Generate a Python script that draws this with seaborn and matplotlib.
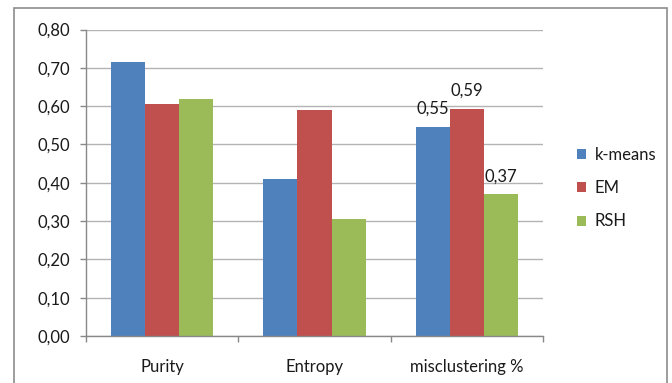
"""Cluster quality by method"""
import matplotlib
matplotlib.use("Agg")
import matplotlib.pyplot as plt
import matplotlib.ticker as mticker
from matplotlib.patches import Rectangle
import pandas as pd
import seaborn as sns

categories = ["Purity", "Entropy", "misclustering %"]
methods = ["k-means", "EM", "RSH"]
kmeans = [0.714, 0.409, 0.546]
em = [0.605, 0.590, 0.593]
rsh = [0.618, 0.305, 0.370]
labelled = "misclustering %"
colors = ["#4F81BD", "#C0504D", "#9BBB59"]

rows = []
for m, vals in zip(methods, [kmeans, em, rsh]):
    for c, v in zip(categories, vals):
        rows.append({"Category": c, "Method": m, "Value": v})
df = pd.DataFrame(rows)

sns.set_style("white")
plt.rcParams["font.family"] = ["Lato", "DejaVu Sans"]
text_color = "#1a1a1a"
fs = 12

fig = plt.figure(figsize=(6.72, 3.83), dpi=100)
ax = fig.add_axes([86 / 672, 1 - 336 / 383, 457 / 672, 306.5 / 383])

sns.barplot(data=df, x="Category", y="Value", hue="Method", order=categories,
            hue_order=methods, palette=colors, saturation=1, width=0.67,
            linewidth=0, ax=ax, legend=True)

ax.set_xlim(-0.5, 2.5)
ax.set_ylim(0, 0.8)
ax.set_yticks([i / 10 for i in range(9)])
ax.yaxis.set_major_formatter(mticker.FuncFormatter(lambda v, p: f"{v:.2f}".replace(".", ",")))
ax.yaxis.grid(True, color="#B3B3B3", linewidth=1)
ax.set_axisbelow(True)
ax.set_xlabel("")
ax.set_ylabel("")

for s in ["top", "right"]:
    ax.spines[s].set_visible(False)
for s in ["left", "bottom"]:
    ax.spines[s].set_color("#888888")
    ax.spines[s].set_linewidth(1)

ax.tick_params(axis="y", left=True, length=4.5, width=1, color="#888888",
               labelsize=fs, labelcolor=text_color, pad=7)
ax.tick_params(axis="x", which="major", bottom=False, labelsize=fs,
               labelcolor=text_color, pad=13)
ax.set_xticks([-0.5, 0.5, 1.5, 2.5], minor=True)
ax.tick_params(axis="x", which="minor", bottom=True, length=4, width=1, color="#888888")

# data labels for the last group only
ci = categories.index(labelled)
for container, m in zip(ax.containers, methods):
    bar = container.patches[ci]
    v = bar.get_height()
    ax.annotate(f"{v:.2f}".replace(".", ","), (bar.get_x() + bar.get_width() / 2, v),
                xytext=(0, 7), textcoords="offset points", ha="center", va="bottom",
                fontsize=fs, color=text_color)

leg = ax.legend(loc="center left", bbox_to_anchor=(562 / 672, 1 - 188 / 383),
                bbox_transform=fig.transFigure, frameon=False, fontsize=fs,
                handlelength=0.55, handleheight=0.55, handletextpad=0.5, labelspacing=1.05)
for t in leg.get_texts():
    t.set_color(text_color)

fig.patches.append(Rectangle((14 / 672, -0.01), 653 / 672, 1 - 8 / 383 + 0.01,
                             transform=fig.transFigure, fill=False,
                             edgecolor="#8c8c8c", linewidth=1.2))

fig.savefig("out.png", dpi=100)
